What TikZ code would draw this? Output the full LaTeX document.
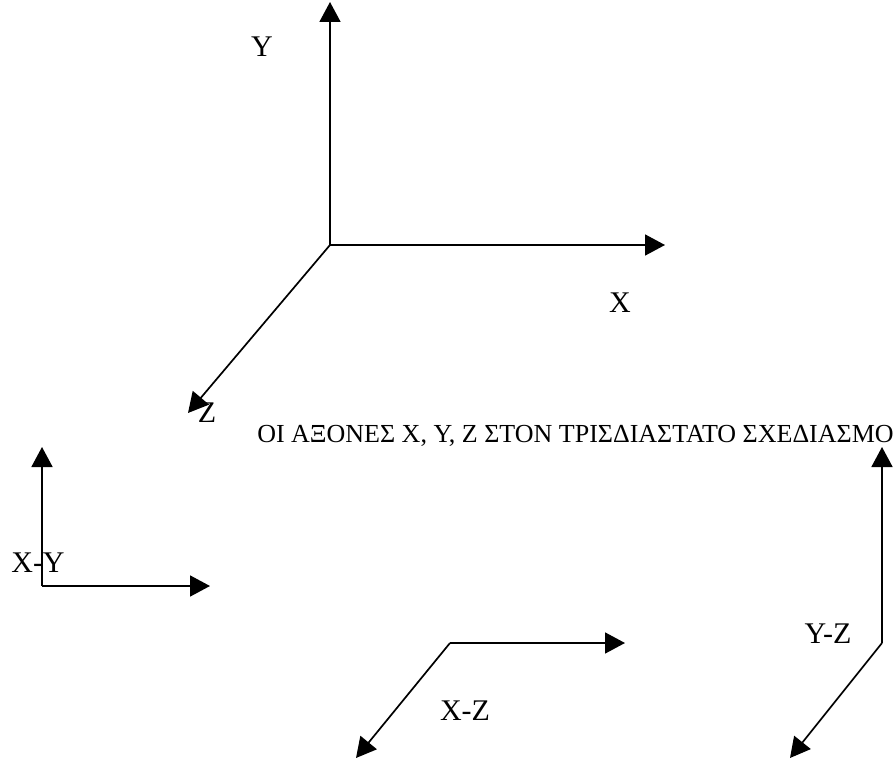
\documentclass[tikz,border=0pt]{standalone}
\usepackage{fontspec}
\setmainfont{Liberation Serif}
\usetikzlibrary{arrows.meta,positioning}

\begin{document}
\begin{tikzpicture}[x=1pt, y=-1pt,
      axis/.style={-{Triangle[length=20pt, width=21pt]}, line width=1.7pt, black},
      lbl/.style={font=\fontsize{30}{34}\selectfont, inner sep=0pt, anchor=base},
      ttl/.style={font=\fontsize{26}{30}\selectfont, inner sep=0pt, anchor=base},
    ]
    \useasboundingbox (0,0) rectangle (895,760);

    % main axes
    \coordinate (o)  at (330,245);
    \coordinate (ty) at (330,2);
    \coordinate (tx) at (665,245);
    \coordinate (tz) at (188,413);
    \draw[axis] (o) -- (ty);
    \draw[axis] (o) -- (tx);
    \draw[axis] (o) -- (tz);
    \node[lbl] (ly) at (262,57)  {Y};
    \node[lbl] (lx) at (620,312) {X};
    \node[lbl] (lz) at (207,422) {Z};

    \node[ttl] (title) at (575.5,442) {ΟΙ ΑΞΟΝΕΣ X, Y, Z ΣΤΟΝ ΤΡΙΣΔΙΑΣΤΑΤΟ ΣΧΕΔΙΑΣΜΟ};

    % X-Y
    \coordinate (oxy)  at (42,586);
    \coordinate (txy1) at (42,447);
    \coordinate (txy2) at (210,586);
    \draw[axis] (oxy) -- (txy1);
    \draw[axis] (oxy) -- (txy2);
    \node[lbl] (lxy) at (38,572) {X-Y};

    % X-Z
    \coordinate (oxz)  at (450,643);
    \coordinate (txz1) at (625,643);
    \coordinate (txz2) at (356,758);
    \draw[axis] (oxz) -- (txz1);
    \draw[axis] (oxz) -- (txz2);
    \node[lbl] (lxz) at (465,720) {X-Z};

    % Y-Z
    \coordinate (oyz)  at (882,643);
    \coordinate (tyz1) at (882,447);
    \coordinate (tyz2) at (790,758);
    \draw[axis] (oyz) -- (tyz1);
    \draw[axis] (oyz) -- (tyz2);
    \node[lbl] (lyz) at (828,643) {Y-Z};
  \end{tikzpicture}
\end{document}
